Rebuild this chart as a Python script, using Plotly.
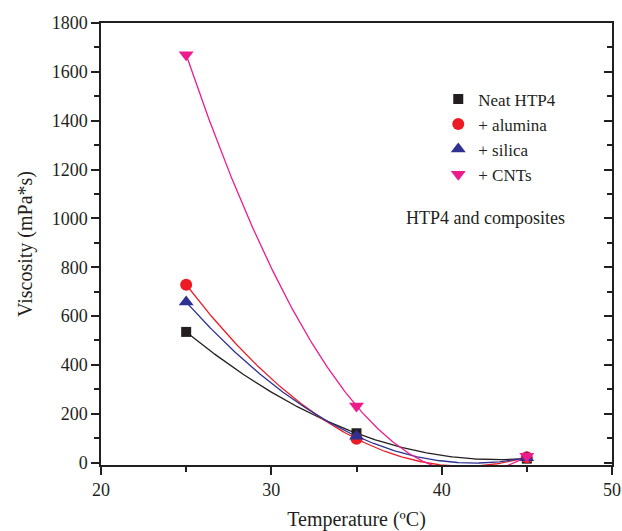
import numpy as np
import plotly.graph_objects as go

temperature = [25, 35, 45]
neat_htp4 = [535, 120, 16]
alumina = [728, 97, 22]
silica = [657, 108, 20]
cnts = [1670, 232, 26]

series_names = ["Neat HTP4", "+ alumina", "+ silica", "+ CNTs"]
series_values = [neat_htp4, alumina, silica, cnts]
colors = ["#231f20", "#ed1c24", "#2e3192", "#ec1c8c"]
symbols = ["square", "circle", "triangle-up", "triangle-down"]
sizes = [10, 12, 13, 13]

FONT = "Liberation Serif, Times New Roman, serif"
AX = "#231f20"

fig = go.Figure()

# fitted second-order curves (as in the original, a polynomial fit through the data)
xs = np.linspace(min(temperature), max(temperature), 300)
for vals, col in zip(series_values, colors):
    coef = np.polyfit(temperature, vals, 2)
    fig.add_trace(go.Scatter(x=xs, y=np.polyval(coef, xs), mode="lines",
                             line=dict(color=col, width=1.3),
                             showlegend=False, hoverinfo="skip"))

for name, vals, col, sym, sz in zip(series_names, series_values, colors, symbols, sizes):
    fig.add_trace(go.Scatter(x=temperature, y=vals, mode="markers", name=name,
                             marker=dict(color=col, symbol=sym, size=sz,
                                         line=dict(width=0))))

# helper trace for the right-hand axis with inward ticks
fig.add_trace(go.Scatter(x=[None], y=[None], yaxis="y2", showlegend=False,
                         hoverinfo="skip"))

fig.add_annotation(text="HTP4 and composites", xref="paper", yref="paper",
                   x=0.752, y=0.559, xanchor="center", yanchor="middle",
                   showarrow=False, font=dict(family=FONT, size=18, color="#231f20"))

fig.update_layout(
    width=622, height=531,
    margin=dict(l=101, r=10, t=23, b=66),
    paper_bgcolor="white", plot_bgcolor="white",
    font=dict(family=FONT, size=18, color="#231f20"),
    showlegend=True,
    legend=dict(x=0.660, y=0.868, xanchor="left", yanchor="top",
                bgcolor="rgba(0,0,0,0)", font=dict(family=FONT, size=17),
                itemsizing="trace", tracegroupgap=0),
    xaxis=dict(range=[20, 50], dtick=10, tick0=20, ticks="outside", ticklen=8,
               tickwidth=1.5, tickcolor=AX, showline=True, linecolor=AX,
               linewidth=1.5, mirror=True, showgrid=False, zeroline=False,
               automargin=False,
               minor=dict(dtick=5, ticks="outside", ticklen=5, tickwidth=1.5,
                          tickcolor=AX, showgrid=False),
               title=dict(text="Temperature (ºC)", font=dict(family=FONT, size=20)),
               tickfont=dict(family=FONT, size=18)),
    yaxis=dict(range=[-10, 1800], dtick=200, tick0=0, ticks="outside", ticklen=8,
               tickwidth=1.5, tickcolor=AX, showline=True, linecolor=AX,
               linewidth=1.5, mirror=True, showgrid=False, zeroline=False,
               automargin=False,
               minor=dict(dtick=100, ticks="outside", ticklen=5, tickwidth=1.5,
                          tickcolor=AX, showgrid=False),
               title=dict(text="Viscosity (mPa*s)", font=dict(family=FONT, size=20),
                          standoff=14),
               tickfont=dict(family=FONT, size=18)),
    yaxis2=dict(range=[-10, 1800], overlaying="y", side="right", dtick=200, tick0=0,
                ticks="inside", ticklen=8, tickwidth=1.5, tickcolor=AX,
                automargin=False,
                showticklabels=False, showline=False, showgrid=False, zeroline=False,
                minor=dict(dtick=100, ticks="inside", ticklen=5, tickwidth=1.5,
                           tickcolor=AX, showgrid=False)),
)

fig.write_html("out.html")
